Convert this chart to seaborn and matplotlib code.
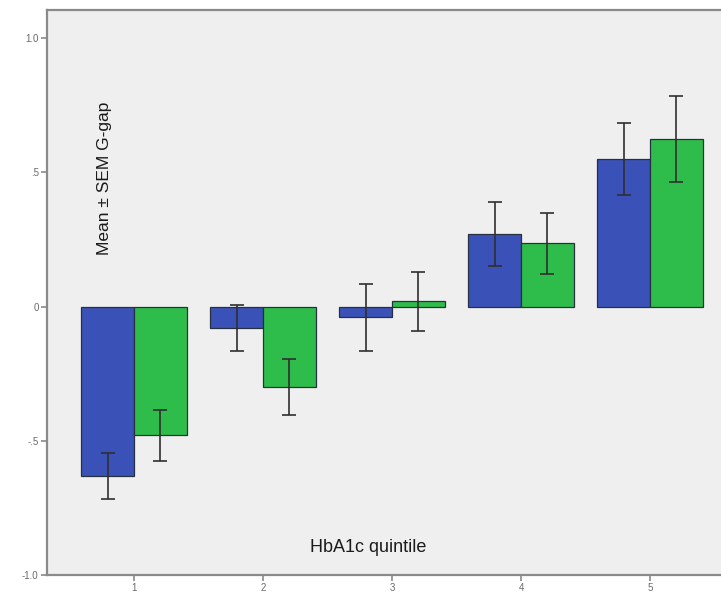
import matplotlib
matplotlib.use("Agg")
import matplotlib.pyplot as plt
import seaborn as sns
import pandas as pd
import numpy as np

# HbA1c quintiles and the two series (mean and SEM of G-gap)
quintiles = ["1", "2", "3", "4", "5"]
series_names = ["A", "B"]
mean_a = [-0.63, -0.08, -0.04, 0.27, 0.55]
sem_a = [0.085, 0.085, 0.125, 0.12, 0.135]
mean_b = [-0.48, -0.30, 0.02, 0.235, 0.625]
sem_b = [0.095, 0.105, 0.11, 0.115, 0.16]
colors = ["#3a52b8", "#2ebd4a"]

df = pd.DataFrame({
    "quintile": quintiles * 2,
    "series": [series_names[0]] * 5 + [series_names[1]] * 5,
    "mean": mean_a + mean_b,
    "sem": sem_a + sem_b,
})

sns.set_style("white")
plt.rcParams["font.family"] = ["Liberation Sans", "DejaVu Sans"]

fig = plt.figure(figsize=(7.21, 5.99), dpi=100)
ax = fig.add_axes([0.0652, 0.040, 0.9348, 0.943])
ax.set_facecolor("#efefef")

sns.barplot(data=df, x="quintile", y="mean", hue="series", order=quintiles,
            hue_order=series_names, palette=colors, width=0.82,
            errorbar=None, edgecolor="#263040", linewidth=0.9,
            saturation=1, legend=False, ax=ax)

# SEM whiskers at the centre of each bar
for container, sems, means in zip(ax.containers, [sem_a, sem_b], [mean_a, mean_b]):
    xs = [p.get_x() + p.get_width() / 2 for p in container]
    ax.errorbar(xs, means, yerr=sems, fmt="none", ecolor="#2f2f2f",
                elinewidth=1.4, capsize=5, capthick=1.4, alpha=0.85, zorder=5)

ax.set_xlim(-0.674, 4.55)
ax.set_ylim(-1.0, 1.104)
ax.set_yticks([-1.0, -0.5, 0.0, 0.5, 1.0])
ax.set_yticklabels(["-1.0", "-.5", "0", ".5", "1.0"])
ax.set_xticks(range(5))
ax.set_xticklabels(quintiles)
ax.tick_params(axis="both", direction="out", length=4, width=1.2,
               color="#8a8a8a", labelcolor="#6a6a6a", labelsize=7, pad=2)
ax.tick_params(axis="y", left=True)
ax.tick_params(axis="x", bottom=True)

# Axis titles sit inside the plotting area
ax.set_xlabel("")
ax.set_ylabel("")
fig.text(105 / 721, 1 - 178 / 599, "Mean \u00b1 SEM G-gap", rotation=90,
         ha="center", va="center", fontsize=12.5, color="#1a1a1a")
fig.text(368 / 721, 1 - 547 / 599, "HbA1c quintile", ha="center", va="center",
         fontsize=13, color="#1a1a1a")

for side in ["left", "bottom", "top"]:
    ax.spines[side].set_visible(True)
    ax.spines[side].set_color("#8a8a8a")
    ax.spines[side].set_linewidth(1.6)
ax.spines["right"].set_visible(False)

fig.savefig("out.png", dpi=100, facecolor="white")
